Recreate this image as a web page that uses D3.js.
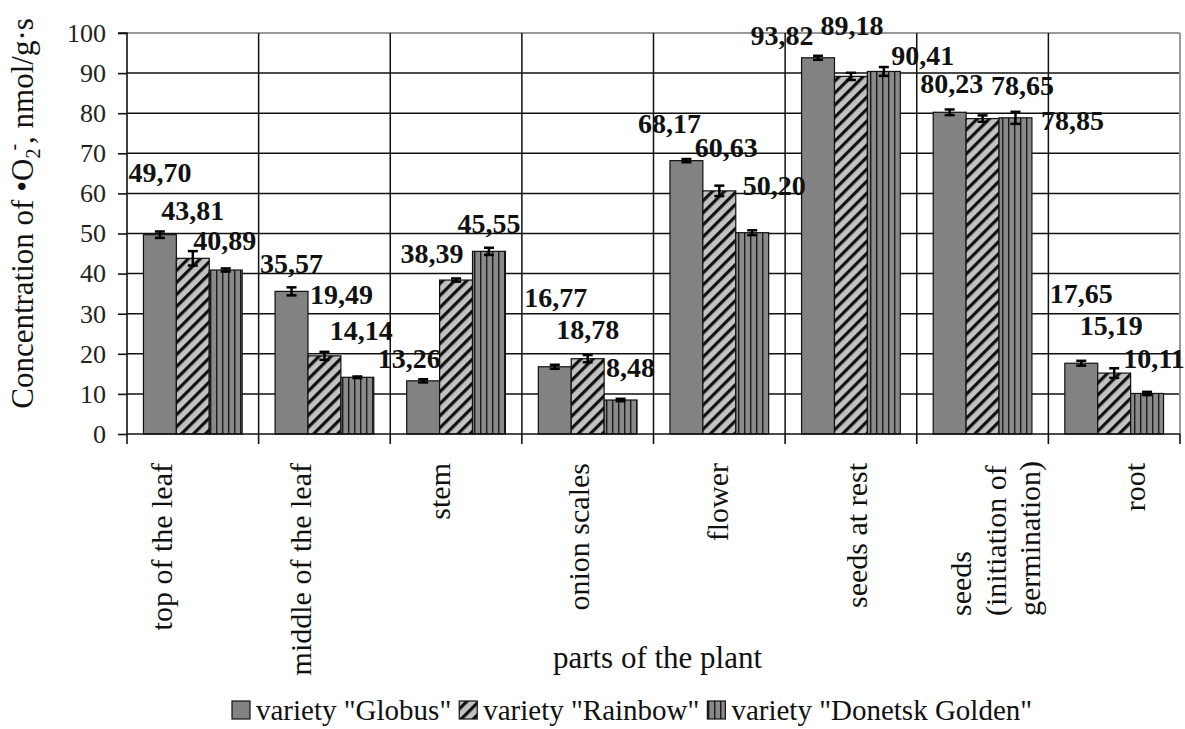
<!DOCTYPE html>
<html><head><meta charset="utf-8">
<script src="https://cdn.jsdelivr.net/npm/d3@7"></script>
<style>
html,body{margin:0;padding:0;background:#fff;}
svg{display:block;}
svg text{font-family:"Liberation Serif","Times New Roman",serif;}
</style></head>
<body><svg id="chart" width="1185" height="729" font-family="Liberation Serif"></svg>
<script>
// ---- data ----
const categories = ["top of the leaf","middle of the leaf","stem","onion scales","flower","seeds at rest","seeds (initiation of germination)","root"];
const categoryLines = [["top of the leaf"],["middle of the leaf"],["stem"],["onion scales"],["flower"],["seeds at rest"],["seeds","(initiation of","germination)"],["root"]];
const seriesNames = ['variety "Globus"','variety "Rainbow"','variety "Donetsk Golden"'];
const globus  = [49.70,35.57,13.26,16.77,68.17,93.82,80.23,17.65];
const rainbow = [43.81,19.49,38.39,18.78,60.63,89.18,78.65,15.19];
const donetsk = [40.89,14.14,45.55,8.48,50.20,90.41,78.85,10.11];
const globusErr  = [0.8,1.0,0.4,0.5,0.4,0.5,0.7,0.6];
const rainbowErr = [1.8,1.0,0.4,0.9,1.3,0.9,0.8,1.2];
const donetskErr = [0.4,0.2,0.9,0.3,0.6,1.1,1.5,0.4];
const yTicks = [0,10,20,30,40,50,60,70,80,90,100];
const yTitle = ["Concentration of \u2022O","2","-",", nmol/g\u00b7s"];
const xTitle = "parts of the plant";

// ---- layout (pixel offsets of the hand-placed value labels) ----
const labelOffsets = [
  [[0,-53],[0,-18],[-14,-13],[1,-60],[-17,-28],[-36,-13],[2,-19],[0,-60]],
  [[0,-38],[17,-52],[-24,-17],[0,-20],[7,-34],[1,-41],[40,-24],[-3,-38]],
  [[-1,-20],[4,-37],[0,-18],[10,-23],[22,-38],[39,-6],[57,12],[7,-25]]
];

const FONT = "Liberation Serif";
const values = [globus, rainbow, donetsk];
const errors = [globusErr, rainbowErr, donetskErr];
const fills = ["#828282","url(#hatch)","url(#vstripe)"];

const svg = d3.select("#chart");
const L = 127, R = 1180, T = 33, B = 434;

const defs = svg.append("defs");
const hp = defs.append("pattern").attr("id","hatch").attr("patternUnits","userSpaceOnUse")
  .attr("width",8.5).attr("height",8.5).attr("patternTransform","rotate(45)");
hp.append("rect").attr("width",8.5).attr("height",8.5).attr("fill","#c2c2c2");
hp.append("rect").attr("x",0).attr("width",3.2).attr("height",8.5).attr("fill","#111");
const vp = defs.append("pattern").attr("id","vstripe").attr("patternUnits","userSpaceOnUse")
  .attr("width",6).attr("height",6);
vp.append("rect").attr("width",6).attr("height",6).attr("fill","#8a8a8a");
vp.append("rect").attr("x",0).attr("width",1.4).attr("height",6).attr("fill","#1a1a1a");

const y = d3.scaleLinear().domain([0,100]).range([B,T]);
const x0 = d3.scaleBand().domain(categories).range([L,R]).paddingInner(0).paddingOuter(0);
const x1 = d3.scaleBand().domain(d3.range(3)).range([0,x0.bandwidth()]).paddingInner(0).paddingOuter(0.5);
const xLab = d3.scalePoint().domain(categories).range([161,1134]);

// grid
const grid = svg.append("g");
grid.selectAll("line.h").data(yTicks.filter(t=>t>0)).join("line")
  .attr("x1",L).attr("x2",R).attr("y1",d=>y(d)).attr("y2",d=>y(d))
  .attr("stroke",d=>d===100?"#9a9a9a":"#111").attr("stroke-width",d=>d===100?2:1.5);
const bounds = categories.slice(1).map(c=>x0(c));
grid.selectAll("line.v").data(bounds).join("line")
  .attr("x1",d=>d).attr("x2",d=>d).attr("y1",T).attr("y2",B)
  .attr("stroke","#111").attr("stroke-width",1.5);
grid.append("line").attr("x1",R).attr("x2",R).attr("y1",T).attr("y2",B)
  .attr("stroke","#9a9a9a").attr("stroke-width",2);

// bars
const flat = [];
values.forEach((arr,s)=>arr.forEach((v,i)=>flat.push({s,i,v,e:errors[s][i],c:categories[i]})));
svg.append("g").selectAll("rect").data(flat).join("rect")
  .attr("x",d=>x0(d.c)+x1(d.s)).attr("width",x1.bandwidth())
  .attr("y",d=>y(d.v)).attr("height",d=>y(0)-y(d.v))
  .attr("fill",d=>fills[d.s]).attr("stroke","#111").attr("stroke-width",1.2);

// error bars
const eg = svg.append("g").attr("stroke","#000");
const cx = d=>x0(d.c)+x1(d.s)+x1.bandwidth()/2;
eg.selectAll("line.v").data(flat).join("line")
  .attr("x1",cx).attr("x2",cx).attr("y1",d=>y(d.v-d.e)).attr("y2",d=>y(d.v+d.e)).attr("stroke-width",2.5);
eg.selectAll("line.t").data(flat).join("line")
  .attr("x1",d=>cx(d)-5).attr("x2",d=>cx(d)+5).attr("y1",d=>y(d.v+d.e)).attr("y2",d=>y(d.v+d.e)).attr("stroke-width",2.5);
eg.selectAll("line.b").data(flat).join("line")
  .attr("x1",d=>cx(d)-5).attr("x2",d=>cx(d)+5).attr("y1",d=>y(d.v-d.e)).attr("y2",d=>y(d.v-d.e)).attr("stroke-width",2.5);

// y axis
const yAxis = d3.axisLeft(y).tickValues(yTicks).tickSize(9).tickPadding(12).tickFormat(d3.format("d"));
const ya = svg.append("g").attr("transform",`translate(${L},0)`).call(yAxis).attr("font-family",FONT);
ya.select(".domain").attr("stroke","#111").attr("stroke-width",1.6).attr("d",`M-9,${T}H0V${B}`);
ya.selectAll(".tick line").attr("stroke","#111").attr("stroke-width",1.6);
ya.selectAll(".tick text").attr("font-family",FONT).attr("font-size",26).attr("fill","#222");

// x axis (ticks at category boundaries)
const xa = svg.append("g");
xa.append("line").attr("x1",L).attr("x2",R).attr("y1",B).attr("y2",B).attr("stroke","#111").attr("stroke-width",1.6);
xa.selectAll("line.tk").data([L,...bounds,R]).join("line")
  .attr("x1",d=>d).attr("x2",d=>d).attr("y1",B).attr("y2",B+10).attr("stroke","#111").attr("stroke-width",1.6);

// category labels
categories.forEach((c,i)=>{
  const lines = categoryLines[i];
  const n = lines.length;
  lines.forEach((ln,k)=>{
    const lx = xLab(c) + (k-(n-1)/2)*34.5;
    const multi = n>1;
    svg.append("text")
      .attr("transform",`translate(${lx},${multi?616:463}) rotate(-90)`)
      .attr("text-anchor",multi?"start":"end").attr("dy","0.35em")
      .attr("font-family",FONT).attr("font-size",30).attr("fill","#111").text(ln);
  });
});

// value labels
const fmt = v=>d3.format(".2f")(v).replace(".",",");
svg.append("g").selectAll("text").data(flat).join("text")
  .attr("x",d=>cx(d)+labelOffsets[d.s][d.i][0])
  .attr("y",d=>y(d.v)+labelOffsets[d.s][d.i][1])
  .attr("text-anchor","middle").attr("font-family",FONT).attr("font-size",28).attr("font-weight","bold")
  .attr("fill","#111").text(d=>fmt(d.v));

// y title
const yt = svg.append("text").attr("transform",`translate(33,${(T+B)/2-20}) rotate(-90)`)
  .attr("text-anchor","middle").attr("font-family",FONT).attr("font-size",31).attr("fill","#111");
yt.append("tspan").text(yTitle[0]);
yt.append("tspan").attr("font-size",20).attr("dy",7).text(yTitle[1]);
yt.append("tspan").attr("font-size",20).attr("dy",-20).attr("dx",-2).text(yTitle[2]);
yt.append("tspan").attr("dy",13).text(yTitle[3]);

// x title
svg.append("text").attr("x",(L+R)/2+4).attr("y",668).attr("text-anchor","middle")
  .attr("font-family",FONT).attr("font-size",31).attr("fill","#111").text(xTitle);

// legend
const lg = svg.append("g");
let lx = 232;
seriesNames.forEach((name,s)=>{
  lg.append("rect").attr("x",lx).attr("y",701).attr("width",18).attr("height",18)
    .attr("fill",fills[s]).attr("stroke","#111").attr("stroke-width",1.2);
  const t = lg.append("text").attr("x",lx+24).attr("y",720).attr("font-family",FONT)
    .attr("font-size",29).attr("fill","#111").text(name);
  lx = lx + 24 + t.node().getComputedTextLength() + 8;
});
</script></body></html>
